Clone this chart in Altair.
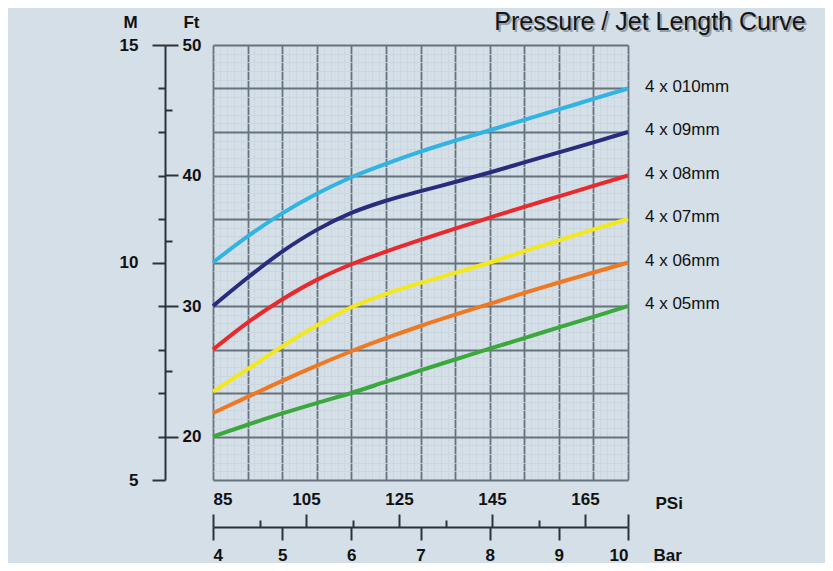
import altair as alt
import pandas as pd

# ---- data (bar pressure vs jet length in metres) ----
bar = [4.0, 4.5, 5.0, 5.5, 6.0, 6.5, 7.0, 7.5, 8.0, 8.5, 9.0, 9.5, 10.0]
m_010 = [10.0, 10.6, 11.13, 11.58, 11.96, 12.27, 12.55, 12.8, 13.04, 13.28, 13.52, 13.76, 14.0]
m_09 = [9.0, 9.65, 10.25, 10.75, 11.14, 11.42, 11.64, 11.85, 12.07, 12.3, 12.53, 12.76, 13.0]
m_08 = [8.0, 8.62, 9.15, 9.6, 9.96, 10.25, 10.52, 10.78, 11.03, 11.28, 11.52, 11.76, 12.0]
m_07 = [7.03, 7.55, 8.07, 8.55, 8.97, 9.28, 9.53, 9.76, 10.0, 10.26, 10.51, 10.76, 11.0]
m_06 = [6.54, 6.91, 7.28, 7.63, 7.96, 8.26, 8.54, 8.8, 9.05, 9.3, 9.54, 9.77, 10.0]
m_05 = [6.0, 6.27, 6.53, 6.77, 7.0, 7.26, 7.52, 7.77, 8.02, 8.26, 8.51, 8.75, 9.0]

series_names = ["4 x 010mm", "4 x 09mm", "4 x 08mm", "4 x 07mm", "4 x 06mm", "4 x 05mm"]
series_values = [m_010, m_09, m_08, m_07, m_06, m_05]
series_colors = ["#2fb4e4", "#2b2b7e", "#e82a2c", "#f4e81c", "#f07822", "#3aa83c"]

bar_ticks = [4, 5, 6, 7, 8, 9, 10]
m_major = [5, 10, 15]
m_minor = [6, 7, 8, 9, 11, 12, 13, 14]
ft_major = [20, 30, 40, 50]
ft_minor = [25, 35, 45]
psi_major = [85, 105, 125, 145, 165]
psi_minor = [95, 115, 135, 155]
grid_x_major = [4 + 0.5 * i for i in range(13)]
grid_y_major = [5 + i for i in range(11)]
grid_x_minor = [round(4 + 0.1 * i, 2) for i in range(61)]
grid_y_minor = [round(5 + 0.2 * i, 2) for i in range(51)]

rows = []
for name, vals in zip(series_names, series_values):
    for b, v in zip(bar, vals):
        rows.append({"bar": b, "m": v, "series": name})
df = pd.DataFrame(rows)
ends = df[df["bar"] == 10.0]
dummy = pd.DataFrame({"bar": [4.0], "m": [5.0], "ft": [20.0], "psi": [85.0]})

W, H = 415, 435
PSI_MAX = 85 + W / 4.65
FT_MIN = 50 / 3

XB = alt.Scale(domain=[4, 10], nice=False, zero=False)
YM = alt.Scale(domain=[5, 15], nice=False, zero=False)
YF = alt.Scale(domain=[FT_MIN, 50], nice=False, zero=False)
XP = alt.Scale(domain=[85, PSI_MAX], nice=False, zero=False)

FONT = "Liberation Sans"
AXC = "#2e3236"
LBL = dict(labelFont=FONT, labelFontSize=17, labelFontWeight="bold", labelColor="#111111")
TTL = dict(titleFont=FONT, titleFontSize=17, titleFontWeight="bold", titleColor="#111111",
           titleAngle=0, titleAlign="center", titleBaseline="middle")


def blank_axis(**kw):
    base = dict(domain=False, ticks=False, labels=False, title=None, grid=False)
    base.update(kw)
    return alt.Axis(**base)


grid_minor = alt.Chart(dummy).mark_point(opacity=0).encode(
    x=alt.X("bar:Q", scale=XB, axis=blank_axis(values=grid_x_minor, grid=True, gridColor="#c8d3dc", gridWidth=0.8)),
    y=alt.Y("m:Q", scale=YM, axis=blank_axis(values=grid_y_minor, grid=True, gridColor="#c8d3dc", gridWidth=0.8)),
)

grid_major = alt.Chart(dummy).mark_point(opacity=0).encode(
    x=alt.X("bar:Q", scale=XB, axis=blank_axis(values=grid_x_major, grid=True, gridColor="#66727d", gridWidth=1.8)),
    y=alt.Y("m:Q", scale=YM, axis=blank_axis(values=grid_y_major, grid=True, gridColor="#66727d", gridWidth=1.8)),
)

lines = alt.Chart(df).mark_line(strokeWidth=4, interpolate="monotone").encode(
    x=alt.X("bar:Q", scale=XB, axis=alt.Axis(
        orient="bottom", offset=47, values=bar_ticks, grid=False, tickSize=13, tickWidth=2, tickColor=AXC,
        domainColor=AXC, domainWidth=2, labelPadding=7, title="Bar", titleX=440, titleY=28,
        **{**LBL, **TTL, "titleAlign": "left"})),
    y=alt.Y("m:Q", scale=YM, axis=alt.Axis(
        orient="left", offset=48, values=m_major, grid=False, tickSize=13, tickWidth=2, tickColor=AXC,
        domainColor=AXC, domainWidth=2, labelPadding=14, title="M", titleX=-35, titleY=-23,
        **LBL, **TTL)),
    color=alt.Color("series:N", scale=alt.Scale(domain=series_names, range=series_colors), legend=None),
    detail="series:N",
)

labels = alt.Chart(ends).mark_text(align="left", baseline="middle", dx=17, dy=-2, fontSize=17,
                                   font=FONT, color="#111111").encode(
    x=alt.X("bar:Q", scale=XB, axis=None),
    y=alt.Y("m:Q", scale=YM, axis=None),
    text="series:N",
)

m_minor_layer = alt.Chart(dummy).mark_point(opacity=0).encode(
    y=alt.Y("m:Q", scale=YM, axis=alt.Axis(orient="left", offset=48, values=m_minor, domain=False, labels=False,
                                           title=None, grid=False, tickSize=7, tickWidth=2, tickColor=AXC)),
)

ft_major_layer = alt.Chart(dummy).mark_point(opacity=0).encode(
    y=alt.Y("ft:Q", scale=YF, axis=alt.Axis(
        orient="right", offset=-(W + 48), values=ft_major, domain=False, grid=False, tickSize=13, tickWidth=2,
        tickColor=AXC, labelPadding=4, title="Ft", titleX=26, titleY=-23, **LBL, **TTL)),
)

ft_minor_layer = alt.Chart(dummy).mark_point(opacity=0).encode(
    y=alt.Y("ft:Q", scale=YF, axis=alt.Axis(orient="right", offset=-(W + 48), values=ft_minor, domain=False,
                                            labels=False, title=None, grid=False, tickSize=7, tickWidth=2,
                                            tickColor=AXC)),
)

psi_major_layer = alt.Chart(dummy).mark_point(opacity=0).encode(
    x=alt.X("psi:Q", scale=XP, axis=alt.Axis(
        orient="top", offset=-(H + 47), values=psi_major + [PSI_MAX], domain=False, grid=False, tickSize=13,
        tickWidth=2, tickColor=AXC, labelPadding=6, labelExpr="datum.value > 170 ? '' : datum.label",
        title="PSi", titleX=442, titleY=-24, **{**LBL, **TTL, "titleAlign": "left"})),
)

psi_minor_layer = alt.Chart(dummy).mark_point(opacity=0).encode(
    x=alt.X("psi:Q", scale=XP, axis=alt.Axis(orient="top", offset=-(H + 47), values=psi_minor, domain=False,
                                             labels=False, title=None, grid=False, tickSize=7, tickWidth=2,
                                             tickColor=AXC)),
)

title_df = pd.DataFrame({"t": ["Pressure / Jet Length Curve"]})
title_shadow = alt.Chart(title_df).mark_text(align="center", baseline="middle", fontSize=25, font=FONT,
                                             color="#4a4f56", opacity=0.45, dx=2, dy=2).encode(
    x=alt.value(437), y=alt.value(-23), text="t:N")
title_text = alt.Chart(title_df).mark_text(align="center", baseline="middle", fontSize=25, font=FONT,
                                           color="#151515").encode(
    x=alt.value(437), y=alt.value(-23), text="t:N")

chart = alt.layer(
    grid_minor, grid_major, m_minor_layer, ft_major_layer, ft_minor_layer,
    psi_major_layer, psi_minor_layer, lines, labels, title_shadow, title_text,
).resolve_scale(x="independent", y="independent").resolve_axis(x="independent", y="independent").properties(
    width=W, height=H,
    autosize=alt.AutoSizeParams(type="none"),
    padding={"left": 205, "top": 37, "right": 197, "bottom": 83},
    background="#d5dfe7",
).configure_view(stroke=None)

chart.save("out.html", embed_options={"renderer": "svg", "actions": False})
